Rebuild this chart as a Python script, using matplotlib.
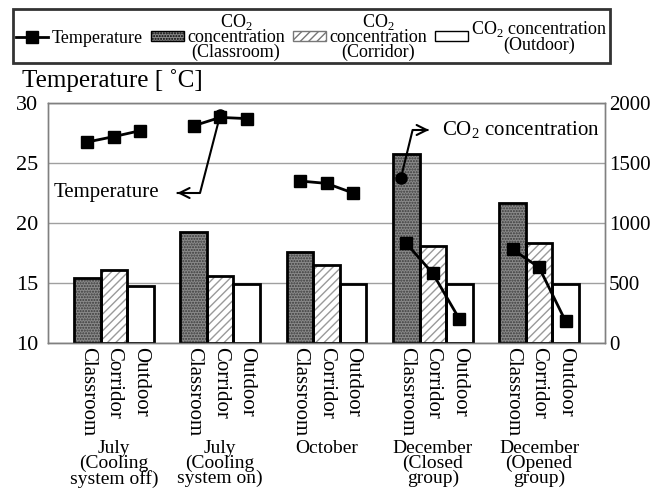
import numpy as np
import matplotlib
matplotlib.use('Agg')
import matplotlib.pyplot as plt
from matplotlib.patches import Patch
from matplotlib.lines import Line2D

plt.rcParams['font.family'] = ['Liberation Serif', 'DejaVu Serif']
plt.rcParams['hatch.linewidth'] = 1.0
plt.rcParams['mathtext.fontset'] = 'custom'
plt.rcParams['mathtext.rm'] = 'Liberation Serif'

# data
groups = ['July\n(Cooling\nsystem off)', 'July\n(Cooling\nsystem on)', 'October',
          'December\n(Closed\ngroup)', 'December\n(Opened\ngroup)']
places = ['Classroom', 'Corridor', 'Outdoor']
co2_classroom = [540, 925, 760, 1575, 1170]
co2_corridor = [610, 560, 650, 810, 835]
co2_outdoor = [475, 490, 490, 490, 490]
temp_classroom = [26.75, 28.1, 23.5, 18.3, 17.8]
temp_corridor = [27.2, 28.8, 23.3, 15.8, 16.3]
temp_outdoor = [27.7, 28.7, 22.5, 12.0, 11.8]

W = 0.25
x = np.arange(len(groups))

fig = plt.figure(figsize=(6.61, 4.91), dpi=100)
ax = fig.add_axes([48/661, 1-343/491, (605-48)/661, 240/491])
ax2 = ax.twinx()
ax.set_zorder(ax2.get_zorder() + 1)
ax.patch.set_visible(False)

# bars (CO2, right axis)
styles = [('#8a8a8a', '#3a3a3a', '......'), ('white', '#9a9a9a', '////'), ('white', 'white', '')]
for i, (vals, (fc, hc, h)) in enumerate(zip([co2_classroom, co2_corridor, co2_outdoor], styles)):
    xs = x + (i - 1) * W
    ax2.bar(xs, vals, W, facecolor=fc, edgecolor=hc, hatch=h, linewidth=0, zorder=2)
    ax2.bar(xs, vals, W, fill=False, edgecolor='black', linewidth=2, zorder=3)

ax2.set_ylim(0, 2000)
ax2.set_yticks([0, 500, 1000, 1500, 2000])
ax2.yaxis.grid(True, color='#a0a0a0', linewidth=1)
ax2.set_axisbelow(True)
ax2.tick_params(axis='y', length=0, labelsize=15, pad=3)

# temperature lines (left axis)
for g in range(len(groups)):
    xs = [g - W, g, g + W]
    ys = [temp_classroom[g], temp_corridor[g], temp_outdoor[g]]
    ax.plot(xs, ys, color='black', linewidth=2, marker='s', markersize=9, zorder=5)

ax.set_ylim(10, 30)
ax.set_yticks([10, 15, 20, 25, 30])
ax.set_xlim(-0.62, 4.62)
ax.tick_params(axis='y', length=0, labelsize=16, pad=7)

ticks = np.concatenate([x + (i - 1) * W for i in range(3)])
labels = [p for p in places for _ in groups]
order = np.argsort(ticks)
ax.set_xticks(ticks[order])
ax.set_xticklabels(np.array(labels)[order], rotation=270, fontsize=15, va='top')
ax.tick_params(axis='x', length=0, pad=3)
ax2.tick_params(axis='x', length=0)

for a in (ax, ax2):
    for s in a.spines.values():
        s.set_linestyle((0, (1, 1)))
        s.set_color('#808080')
        s.set_linewidth(1)

for g, name in enumerate(groups):
    ax.text(g, -0.405, name, transform=ax.get_xaxis_transform(), ha='center', va='top',
            fontsize=14, linespacing=0.82)

# annotation arrows
ax.plot([1.0], [29.0], 'o', color='black', markersize=8, zorder=6)
ax.plot([1.0, 0.81, 0.60], [29.0, 22.5, 22.5], color='black', linewidth=1.5, zorder=6)
ax.annotate('', xy=(0.57, 22.5), xytext=(0.65, 22.5),
            arrowprops=dict(arrowstyle='->', color='black', lw=1.5, mutation_scale=18), zorder=6)
ax.text(0.43, 22.5, 'Temperature', ha='right', va='center', fontsize=15)

ax2.plot([2.70], [1375], 'o', color='black', markersize=8, zorder=6)
ax2.plot([2.70, 2.81, 2.95], [1375, 1775, 1775], color='black', linewidth=1.5, zorder=6)
ax2.annotate('', xy=(2.99, 1775), xytext=(2.90, 1775),
             arrowprops=dict(arrowstyle='->', color='black', lw=1.5, mutation_scale=18), zorder=6)
ax2.text(3.09, 1775, 'CO$_2$ concentration', ha='left', va='center', fontsize=15)

fig.text(22/661, 1-81/491, 'Temperature [ ˚C]', ha='left', va='center', fontsize=18)

handles = [Line2D([], [], color='black', linewidth=2, marker='s', markersize=9),
           Patch(facecolor='#8a8a8a', edgecolor='black', hatch='......'),
           Patch(facecolor='white', edgecolor='#777777', hatch='////'),
           Patch(facecolor='white', edgecolor='black')]
leg_labels = ['Temperature', 'CO$_2$\nconcentration\n(Classroom)',
              'CO$_2$\nconcentration\n(Corridor)', 'CO$_2$ concentration\n(Outdoor)']
leg = fig.legend(handles, leg_labels, ncol=4, loc='upper left', bbox_to_anchor=(13/661, 1-9/491),
                 borderaxespad=0, fontsize=13, frameon=True, fancybox=False, edgecolor='black',
                 borderpad=0.15, handlelength=1.8, handleheight=0.5, handletextpad=0.2,
                 columnspacing=0.45, labelspacing=0.1)
leg.get_frame().set_linewidth(2)
for t in leg.get_texts():
    t.set_multialignment('center')
    t.set_linespacing(0.8)

fig.savefig('out.png', dpi=100)
